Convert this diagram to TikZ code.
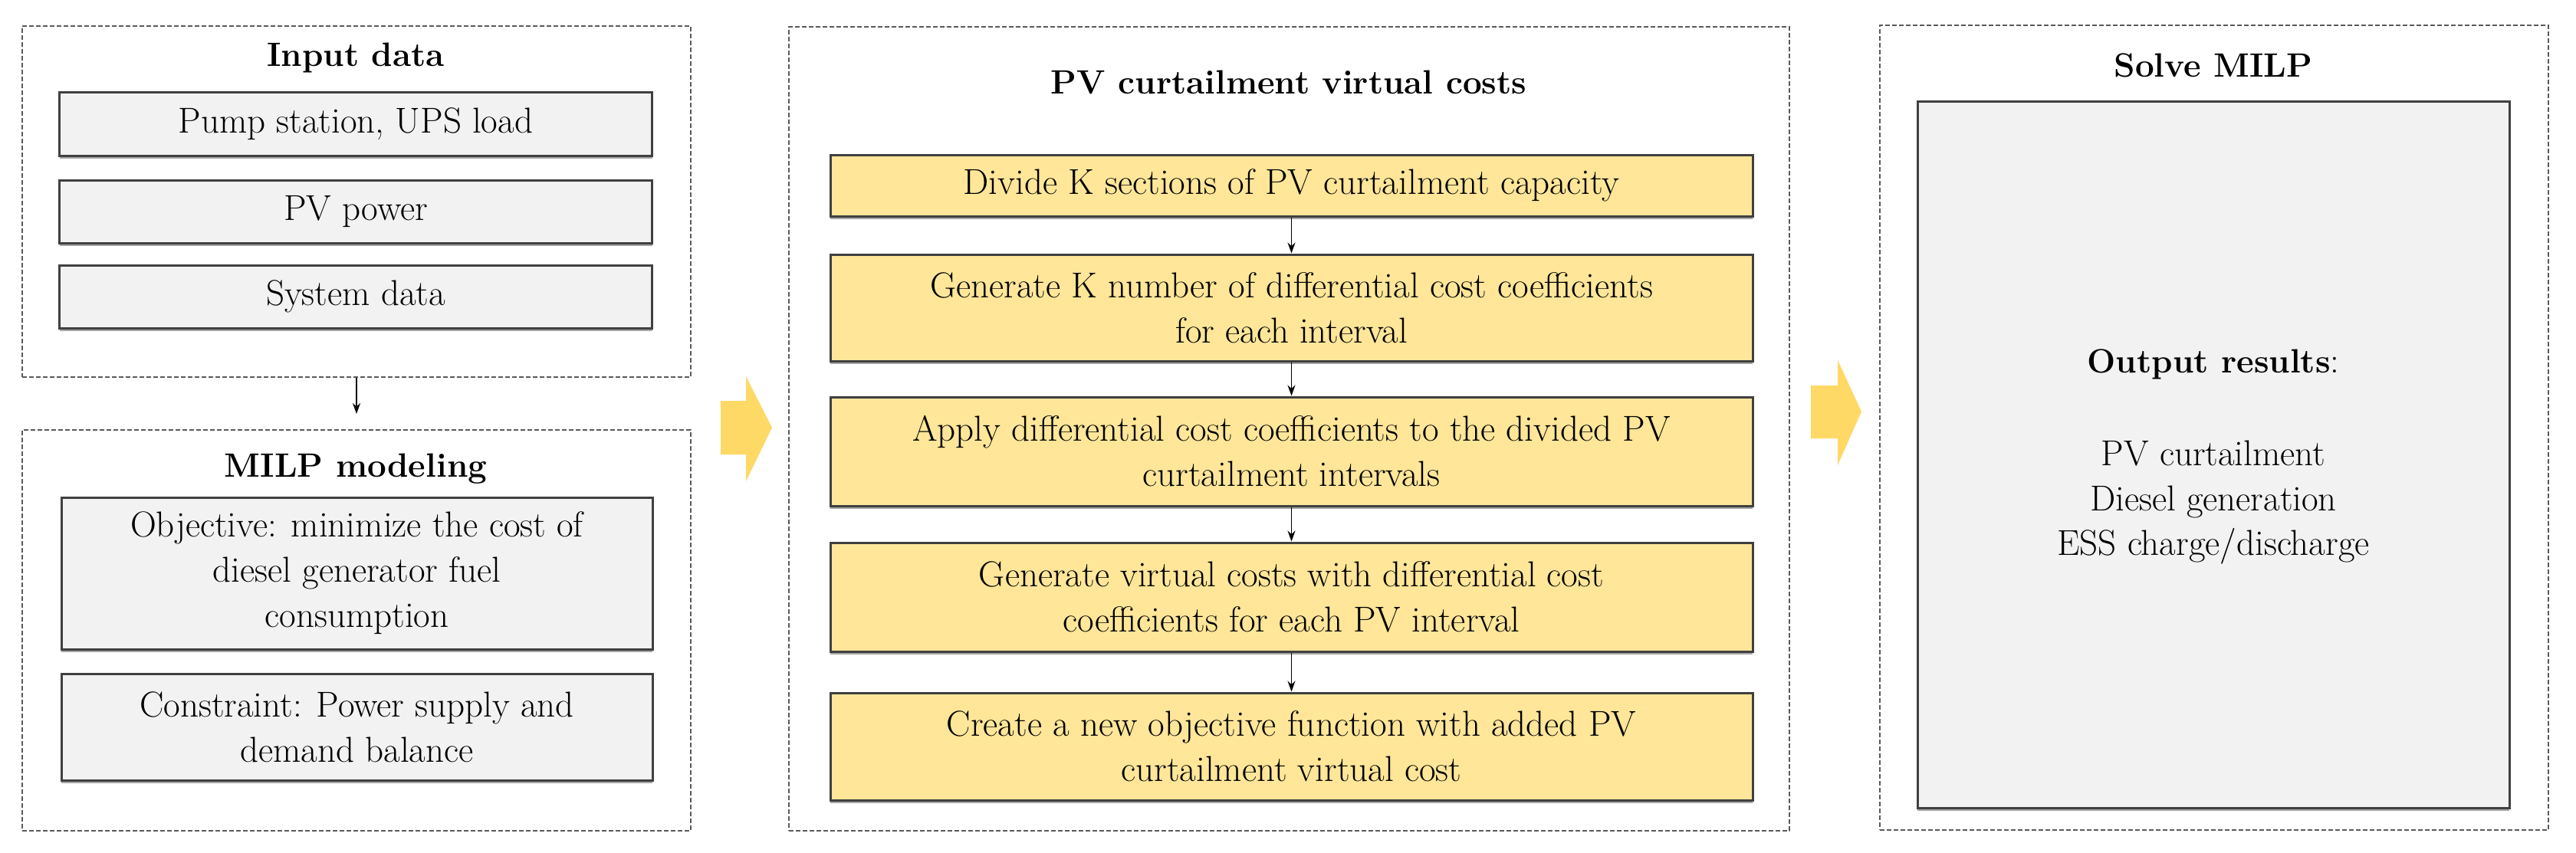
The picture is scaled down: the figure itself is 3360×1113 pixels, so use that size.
\documentclass[tikz,border=0pt]{standalone}
\usepackage{fontspec}
\usetikzlibrary{shadows,arrows.meta}
\definecolor{ybox}{HTML}{FFE699}
\definecolor{yarrow}{HTML}{FFD966}
\definecolor{gbox}{HTML}{F2F2F2}
\definecolor{bord}{HTML}{404040}
\definecolor{dashcol}{HTML}{5A5A5A}
\definecolor{shadowcol}{HTML}{A6A6A6}
\begin{document}
\begin{tikzpicture}[x=1pt,y=-1pt,
  group/.style={draw=dashcol, line width=2pt, dash pattern=on 6pt off 3pt, inner sep=0pt},
  ttl/.style={font=\fontsize{44}{55}\selectfont\bfseries, anchor=base, inner sep=0pt},
  txt/.style={font=\fontsize{47}{59}\selectfont, anchor=base, inner sep=0pt},
  gbx/.style={draw=bord, fill=gbox, line width=3pt, inner sep=0pt, align=center,
    font=\fontsize{47}{59}\selectfont,
    drop shadow={shadow xshift=0pt, shadow yshift=-4pt, fill=shadowcol, opacity=1}},
  ybx/.style={gbx, fill=ybox},
  conn/.style={draw=black, line width=1.6pt, -{Stealth[length=14pt,width=10pt]}},
  bigarrow/.style={fill=yarrow}
]
\useasboundingbox (0,0) rectangle (3360,1113);
\fill[white] (0,0) rectangle (3360,1113);

% ---------- Left column ----------
\node[group, minimum width=872pt, minimum height=458pt] (inbox) at (465,263) {};
\node[ttl] (intitle) at (464,87) {Input data};
\node[gbx, minimum width=773pt, minimum height=82pt] (pump) at (464,162) {Pump station, UPS load};
\node[gbx, minimum width=773pt, minimum height=82pt] (pv) at (464,276) {PV power};
\node[gbx, minimum width=773pt, minimum height=82pt] (sys) at (464,387) {System data};

\node[group, minimum width=872pt, minimum height=523pt] (milp) at (465,822.5) {};
\node[ttl] (milptitle) at (464,622) {MILP modeling};
\node[gbx, minimum width=771pt, minimum height=198pt] (obj) at (465.5,748)
  {Objective: minimize the cost of\\diesel generator fuel\\consumption};
\node[gbx, minimum width=771pt, minimum height=139pt] (cons) at (465.5,948.5)
  {Constraint: Power supply and\\demand balance};

\draw[conn, shorten >=20pt] (inbox.south) -- (milp.north);

% ---------- Middle column ----------
\node[group, minimum width=1305pt, minimum height=1049pt] (mid) at (1681.5,559.5) {};
\node[ttl] (midtitle) at (1681,123) {PV curtailment virtual costs};
\node[ybx, minimum width=1203pt, minimum height=80pt] (b1) at (1684.5,242)
  {Divide K sections of PV curtailment capacity};
\node[ybx, minimum width=1203pt, minimum height=139pt] (b2) at (1684.5,401.5)
  {Generate K number of differential cost coefficients\\for each interval};
\node[ybx, minimum width=1203pt, minimum height=142pt] (b3) at (1684.5,589)
  {Apply differential cost coefficients to the divided PV\\curtailment intervals};
\node[ybx, minimum width=1203pt, minimum height=142pt] (b4) at (1684.5,779)
  {Generate virtual costs with differential cost\\coefficients for each PV interval};
\node[ybx, minimum width=1203pt, minimum height=140pt] (b5) at (1684.5,974)
  {Create a new objective function with added PV\\curtailment virtual cost};

\draw[conn] (b1.south) -- (b2.north);
\draw[conn] (b2.south) -- (b3.north);
\draw[conn] (b3.south) -- (b4.north);
\draw[conn] (b4.south) -- (b5.north);

% ---------- Right column ----------
\node[group, minimum width=872pt, minimum height=1050pt] (right) at (2888,558) {};
\node[ttl] (righttitle) at (2887,101) {Solve MILP};
\node[gbx, minimum width=772pt, minimum height=921pt] (out) at (2887,593.5) {};
\node[txt] (outhead) at (2887,486) {{\bfseries\fontsize{44}{55}\selectfont Output results}:};
\node[txt] (out1) at (2887,607) {PV curtailment};
\node[txt] (out2) at (2887,666) {Diesel generation};
\node[txt] (out3) at (2887,724) {ESS charge/discharge};

% ---------- Big yellow arrows ----------
\fill[bigarrow] (940,523) -- (973,523) -- (973,491) -- (1007,558) -- (973,628) -- (973,593) -- (940,593) -- cycle;
\fill[bigarrow] (2362,503) -- (2397,503) -- (2397,470) -- (2428,537) -- (2397,607) -- (2397,572) -- (2362,572) -- cycle;
\end{tikzpicture}
\end{document}
